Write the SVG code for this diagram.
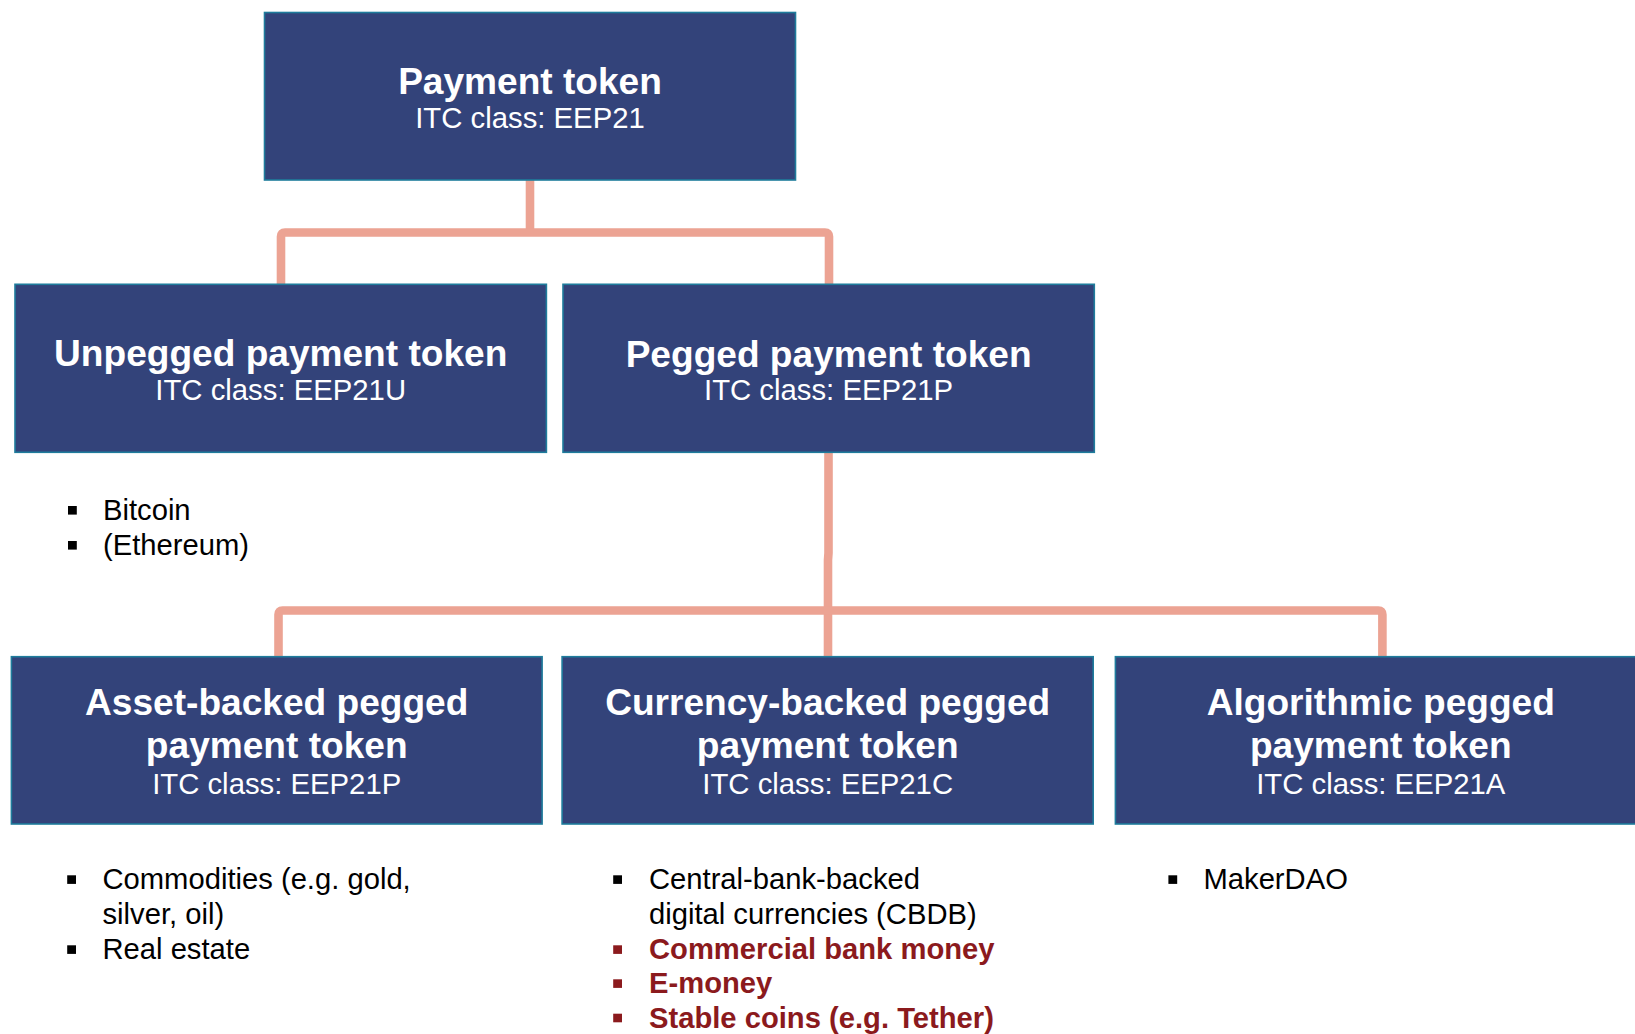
<svg xmlns="http://www.w3.org/2000/svg" width="1635" height="1034" viewBox="0 0 1635 1034">
  <style>
    .box { fill: #33437A; stroke: #1F7C9C; stroke-width: 1.6; }
    .title { font-family: "Liberation Sans", Arial, sans-serif; font-weight: bold; font-size: 37.1px; fill: #FFFFFF; text-anchor: middle; }
    .sub { font-family: "Liberation Sans", Arial, sans-serif; font-size: 29.3px; fill: #FFFFFF; text-anchor: middle; }
    .item { font-family: "Liberation Sans", Arial, sans-serif; font-size: 29.2px; fill: #000000; }
    .hot { font-family: "Liberation Sans", Arial, sans-serif; font-size: 29.2px; font-weight: bold; fill: #8B1A1D; }
    .bul { fill: #000000; }
    .bulhot { fill: #8B1A1D; }
    .link { fill: none; stroke: #ECA393; stroke-width: 8.6; stroke-linejoin: round; }
  </style>
  <rect width="1635" height="1034" fill="#FFFFFF"/>

  <g id="connectors">
    <path class="link" d="M530,180 V232.5"/>
    <path class="link" d="M281,284 V236.5 Q281,232.5 285,232.5 H825 Q829,232.5 829,236.5 V284"/>
    <path class="link" d="M828.5,452 V553 L828,560 V657"/>
    <path class="link" d="M278.5,657 V614.5 Q278.5,610.5 282.5,610.5 H1378.4 Q1382.4,610.5 1382.4,614.5 V657"/>
  </g>

  <g id="payment-token">
    <rect class="box" x="264.5" y="12.5" width="531" height="167.5"/>
    <text class="title" x="530" y="94.3">Payment token</text>
    <text class="sub" x="530" y="127.7">ITC class: EEP21</text>
  </g>

  <g id="unpegged">
    <rect class="box" x="15" y="284.3" width="531.4" height="168"/>
    <text class="title" x="280.7" y="366.3">Unpegged payment token</text>
    <text class="sub" x="280.7" y="400">ITC class: EEP21U</text>
    <rect class="bul" x="68" y="506" width="8.8" height="8.6"/>
    <text class="item" x="103" y="520">Bitcoin</text>
    <rect class="bul" x="68" y="541" width="8.8" height="8.6"/>
    <text class="item" x="103" y="555">(Ethereum)</text>
  </g>

  <g id="pegged">
    <rect class="box" x="563" y="284.3" width="531.3" height="168"/>
    <text class="title" x="828.6" y="366.5">Pegged payment token</text>
    <text class="sub" x="828.6" y="400">ITC class: EEP21P</text>
  </g>

  <g id="asset-backed">
    <rect class="box" x="11.4" y="656.7" width="530.7" height="167.3"/>
    <text class="title" x="276.7" y="715">Asset-backed pegged</text>
    <text class="title" x="276.7" y="757.7">payment token</text>
    <text class="sub" x="276.7" y="794.3">ITC class: EEP21P</text>
    <rect class="bul" x="67.2" y="875.3" width="8.8" height="8.6"/>
    <text class="item" x="102.5" y="889.3">Commodities (e.g. gold,</text>
    <text class="item" x="102.5" y="924.3">silver, oil)</text>
    <rect class="bul" x="67.2" y="945.3" width="8.8" height="8.6"/>
    <text class="item" x="102.5" y="959.3">Real estate</text>
  </g>

  <g id="currency-backed">
    <rect class="box" x="562.1" y="656.7" width="531.1" height="167.3"/>
    <text class="title" x="827.7" y="715">Currency-backed pegged</text>
    <text class="title" x="827.7" y="757.7">payment token</text>
    <text class="sub" x="827.7" y="794.3">ITC class: EEP21C</text>
    <rect class="bul" x="613.2" y="875.3" width="8.8" height="8.6"/>
    <text class="item" x="649" y="889.3">Central-bank-backed</text>
    <text class="item" x="649" y="924.3">digital currencies (CBDB)</text>
    <rect class="bulhot" x="613.2" y="945.3" width="8.8" height="8.6"/>
    <text class="hot" x="649" y="959.3">Commercial bank money</text>
    <rect class="bulhot" x="613.2" y="979.3" width="8.8" height="8.6"/>
    <text class="hot" x="649" y="993.3">E-money</text>
    <rect class="bulhot" x="613.2" y="1013.7" width="8.8" height="8.6"/>
    <text class="hot" x="649" y="1027.7">Stable coins (e.g. Tether)</text>
  </g>

  <g id="algorithmic">
    <rect class="box" x="1115.4" y="656.7" width="531" height="167.3"/>
    <text class="title" x="1380.8" y="715">Algorithmic pegged</text>
    <text class="title" x="1380.8" y="757.7">payment token</text>
    <text class="sub" x="1380.8" y="794.3">ITC class: EEP21A</text>
    <rect class="bul" x="1168.4" y="875.3" width="8.8" height="8.6"/>
    <text class="item" x="1203.5" y="889.3">MakerDAO</text>
  </g>
</svg>
